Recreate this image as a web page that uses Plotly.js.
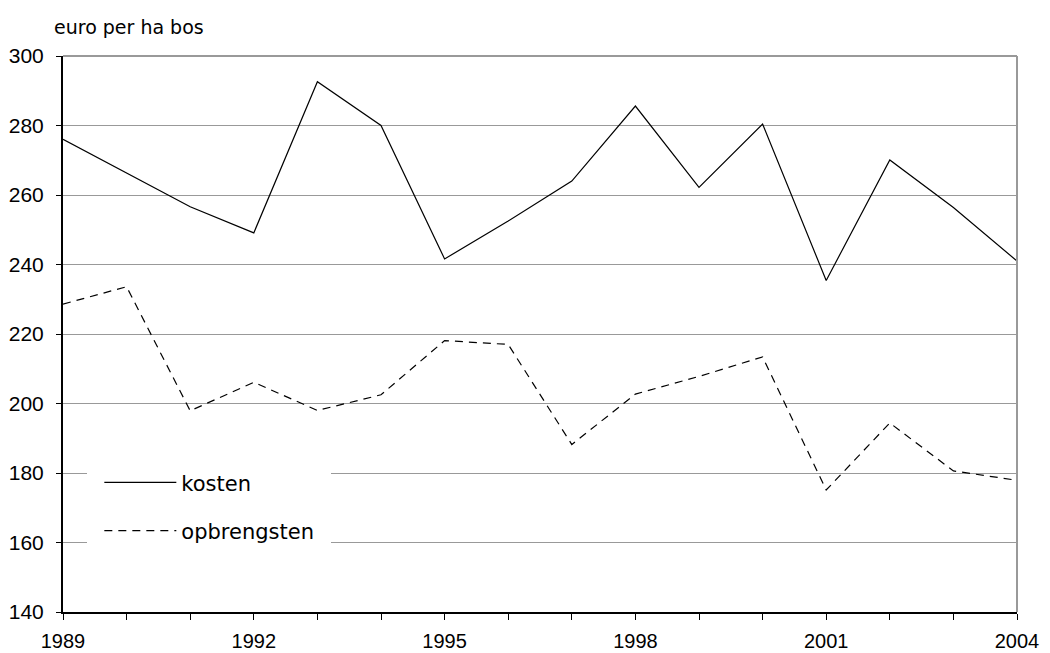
<!DOCTYPE html>
<html>
<head>
<meta charset="utf-8">
<script src="https://cdn.plot.ly/plotly-3.0.1.min.js"></script>
<style>html,body{margin:0;padding:0;background:#fff;}#chart{width:1050px;height:653px;}</style>
</head>
<body>
<div id="chart"></div>
<script>
const years = [1989,1990,1991,1992,1993,1994,1995,1996,1997,1998,1999,2000,2001,2002,2003,2004];
const kosten = [276,266.3,256.6,249.1,292.6,280,241.6,252.5,264,285.6,262.2,280.4,235.4,270.1,256.4,241];
const opbrengsten = [228.6,233.6,197.9,206.1,198,202.5,218.1,217,188.2,202.7,207.8,213.4,175.1,194.4,180.6,177.9];
const seriesNames = ['kosten','opbrengsten'];
const xTickVals = [1989,1992,1995,1998,2001,2004];
const xTickText = ['1989','1992','1995','1998','2001','2004'];
const yTickVals = [140,160,180,200,220,240,260,280,300];
const yTitle = 'euro per ha bos';

const font = 'Liberation Sans, Arial, sans-serif';
const wideFont = 'DejaVu Sans, sans-serif';

const traces = [
  {x: years, y: kosten, name: seriesNames[0], type: 'scatter', mode: 'lines',
   legendgroup: 'a', line: {color: '#000', width: 1.2}},
  {x: years, y: opbrengsten, name: seriesNames[1], type: 'scatter', mode: 'lines',
   legendgroup: 'b', line: {color: '#000', width: 1.2, dash: '8px,6px'}}
];

const layout = {
  width: 1050, height: 653,
  margin: {l: 63, r: 33, t: 56, b: 41},
  paper_bgcolor: '#fff', plot_bgcolor: '#fff',
  font: {family: font, color: '#000', size: 20},
  showlegend: true,
  legend: {
    x: 0.0255, y: 0.291, xanchor: 'left', yanchor: 'top',
    bgcolor: '#fff', bordercolor: '#fff', borderwidth: 12,
    font: {family: wideFont, size: 21, color: '#000'},
    traceorder: 'grouped', tracegroupgap: 18, itemwidth: 72
  },
  xaxis: {
    range: [1989, 2004], tickvals: xTickVals, ticktext: xTickText,
    showgrid: false, zeroline: false,
    showline: true, linecolor: '#000', linewidth: 2,
    ticks: 'outside', ticklen: 6, tickcolor: '#000', tickwidth: 1,
    ticklabelstandoff: 4,
    minor: {dtick: 1, tick0: 1989, ticks: 'outside', ticklen: 6, tickcolor: '#000', tickwidth: 1, showgrid: false},
    tickfont: {family: font, size: 20, color: '#000'}
  },
  yaxis: {
    range: [140, 300], tickvals: yTickVals,
    showgrid: true, gridcolor: '#999', gridwidth: 1,
    zeroline: false,
    showline: true, linecolor: '#000', linewidth: 2,
    ticks: 'outside', ticklen: 5, tickcolor: '#000', tickwidth: 1,
    ticklabelstandoff: 8,
    tickfont: {family: font, size: 21, color: '#000'}
  },
  shapes: [
    {type: 'line', xref: 'paper', yref: 'paper', x0: 0, x1: 1, y0: 1, y1: 1, line: {color: '#999', width: 2}},
    {type: 'line', xref: 'paper', yref: 'paper', x0: 1, x1: 1, y0: 0, y1: 1, line: {color: '#999', width: 2}}
  ],
  annotations: [
    {text: yTitle, xref: 'paper', yref: 'paper', x: -0.012, y: 1.028, xanchor: 'left', yanchor: 'bottom',
     showarrow: false, font: {family: wideFont, size: 19, color: '#000'}}
  ]
};

Plotly.newPlot('chart', traces, layout, {displayModeBar: false, staticPlot: true});
</script>
</body>
</html>
